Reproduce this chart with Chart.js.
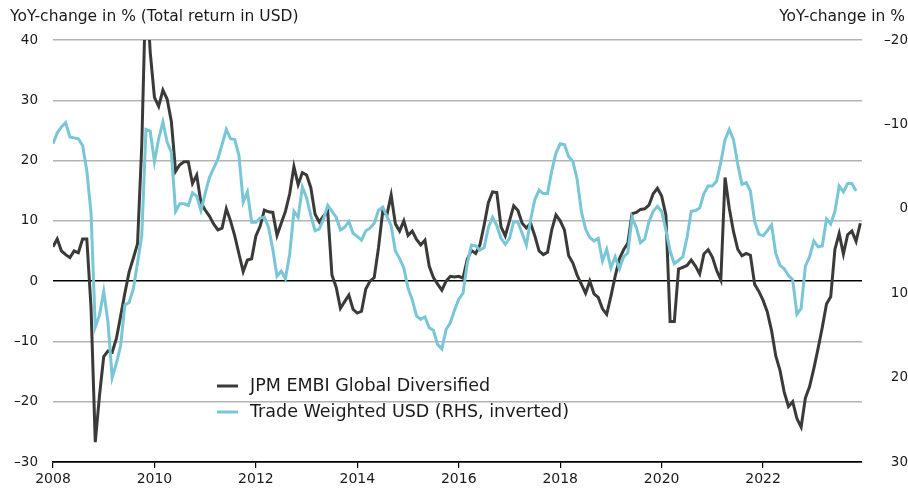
<!DOCTYPE html>
<html>
<head>
<meta charset="utf-8">
<script src="https://cdn.jsdelivr.net/npm/chart.js@4"></script>
<style>
body { margin: 0; background: #fff; }
#wrap { width: 908px; height: 488px; }
</style>
</head>
<body>
<div id="wrap"><canvas id="chart"></canvas></div>
<script>
// monthly data, Jan 2008 .. Dec 2023
var startYear = 2008;

var embiLabel = 'JPM EMBI Global Diversified';
var usdLabel = 'Trade Weighted USD (RHS, inverted)';

var embi = [
    5.7, 7.0, 5.0, 4.4, 3.9, 5.0, 4.7, 7.0, 7.0, -4.4, -26.7, -19.0,
    -12.5, -11.6, -11.8, -9.5, -5.8, -2.0, 1.5, 3.8, 6.2, 22.5, 50.0, 38.0,
    30.5, 29.0, 31.7, 30.2, 26.5, 18.2, 19.3, 19.8, 19.8, 16.2, 17.6, 13.0,
    11.8, 10.8, 9.5, 8.5, 8.8, 12.0, 10.0, 7.5, 4.5, 1.6, 3.5, 3.7,
    7.5, 9.1, 11.8, 11.5, 11.4, 7.6, 9.6, 11.6, 14.5, 19.0, 16.0, 18.0,
    17.6, 15.5, 11.1, 9.8, 10.8, 11.5, 1.0, -1.0, -4.5, -3.4, -2.3, -4.7,
    -5.3, -5.0, -1.3, 0.0, 0.6, 5.5, 11.5, 11.0, 14.3, 9.5, 8.3, 10.0,
    7.6, 8.3, 6.9, 6.0, 6.8, 2.5, 0.6, -0.5, -1.5, 0.0, 0.8, 0.7,
    0.8, 0.5, 3.6, 5.1, 4.6, 6.0, 9.3, 13.0, 14.8, 14.7, 9.0, 7.5,
    10.0, 12.5, 11.7, 9.6, 8.8, 9.6, 7.5, 5.0, 4.4, 4.8, 8.5, 11.0,
    10.0, 8.5, 4.2, 3.0, 1.0, -0.5, -2.0, 0.0, -2.1, -2.7, -4.6, -5.5,
    -2.5, 0.8, 3.7, 5.2, 6.3, 11.2, 11.4, 11.9, 12.0, 12.6, 14.5, 15.4,
    14.1, 11.0, -6.7, -6.7, 2.0, 2.3, 2.6, 3.5, 2.5, 1.2, 4.5, 5.2,
    4.0, 1.8, 0.2, 17.2, 12.1, 8.2, 5.3, 4.2, 4.6, 4.3, -0.5, -1.7,
    -3.2, -5.1, -8.2, -12.4, -14.8, -18.4, -20.8, -20.0, -22.8, -24.2, -19.4, -17.5,
    -14.5, -11.2, -7.7, -3.8, -2.6, 5.3, 7.9, 4.5, 7.7, 8.3, 6.6, 9.6
];

var usdTw = [
    -7.7, -9.0, -9.7, -10.2, -8.5, -8.4, -8.3, -7.5, -4.5, 0.5, 14.0, 12.6,
    9.8, 13.4, 20.0, 18.3, 16.2, 11.4, 11.1, 9.5, 6.4, 3.2, -9.4, -9.2,
    -5.6, -8.3, -10.3, -7.9, -6.7, 0.3, -0.6, -0.6, -0.4, -1.9, -1.5, 0.2,
    -1.8, -3.7, -4.8, -5.9, -7.6, -9.4, -8.3, -8.2, -6.3, -0.8, -2.0, 1.6,
    1.6, 1.1, 1.0, 2.2, 4.8, 8.0, 7.4, 8.3, 5.4, 0.3, 1.0, -2.6,
    -1.3, 0.8, 2.6, 2.4, 1.2, -0.4, 0.3, 1.0, 2.5, 2.2, 1.5, 2.9,
    3.3, 3.7, 2.6, 2.3, 1.7, 0.2, -0.2, 0.9, 2.0, 5.0, 5.9, 7.0,
    9.4, 10.8, 12.7, 13.1, 12.8, 14.1, 14.4, 16.1, 16.6, 14.3, 13.5, 12.0,
    10.7, 10.0, 6.5, 4.3, 4.4, 4.9, 4.6, 2.2, 1.0, 2.0, 3.5, 4.2,
    3.5, 1.5, 1.6, 2.9, 4.3, 1.3, -1.1, -2.2, -1.8, -1.8, -4.5, -6.6,
    -7.7, -7.6, -6.2, -5.6, -3.5, 0.3, 2.4, 3.4, 3.8, 3.5, 6.2, 4.8,
    7.0, 5.7, 7.1, 5.7, 5.2, 1.0, 2.2, 4.0, 3.6, 1.5, 0.3, -0.3,
    0.3, 2.5, 5.0, 6.5, 6.1, 5.7, 3.4, 0.3, 0.2, -0.1, -1.8, -2.7,
    -2.7, -3.3, -5.5, -8.2, -9.4, -8.2, -5.3, -2.9, -3.1, -2.1, 1.5, 3.0,
    3.2, 2.6, 1.9, 5.3, 6.7, 7.1, 7.9, 8.4, 12.5, 11.8, 6.8, 5.7,
    3.8, 4.5, 4.4, 1.2, 1.8, 0.3, -2.7, -2.0, -3.0, -3.0, -2.1, null
];

var leftTicks = [-30, -20, -10, 0, 10, 20, 30, 40];
var rightTicks = [-20, -10, 0, 10, 20, 30];
var yearTicks = [2008, 2010, 2012, 2014, 2016, 2018, 2020, 2022];

var leftTitle = 'YoY-change in % (Total return in USD)';
var rightTitle = 'YoY-change in %';

var colEmbi = '#3a3a38';
var colUsd = '#78c6d6';
var fontName = "'DejaVu Sans', Verdana, sans-serif";

function toPoints(values) {
    var pts = [];
    values.forEach(function (v, i) {
        pts.push({ x: startYear + i / 12, y: v });
    });
    return pts;
}

function dash(v) {
    return String(v).replace('-', '\u2013');
}

var textPlugin = {
    id: 'texts',
    afterDraw: function (chart) {
        var ctx = chart.ctx;
        ctx.save();
        ctx.fillStyle = '#1a1a1a';
        ctx.font = '15.5px ' + fontName;
        ctx.textBaseline = 'middle';
        ctx.textAlign = 'left';
        ctx.fillText(leftTitle, 10, 17);
        ctx.textAlign = 'right';
        ctx.fillText(rightTitle, 905, 17);

        // legend inside plot
        var items = [
            { label: embiLabel, color: colEmbi, y: 386 },
            { label: usdLabel, color: colUsd, y: 412 }
        ];
        ctx.font = '17.5px ' + fontName;
        ctx.textAlign = 'left';
        items.forEach(function (it) {
            ctx.strokeStyle = it.color;
            ctx.lineWidth = 3;
            ctx.beginPath();
            ctx.moveTo(217, it.y);
            ctx.lineTo(238, it.y);
            ctx.stroke();
            ctx.fillStyle = '#1a1a1a';
            ctx.fillText(it.label, 250, it.y);
        });
        ctx.restore();
    }
};

var chart = new Chart(document.getElementById('chart'), {
    type: 'line',
    data: {
        datasets: [{
            label: usdLabel,
            data: toPoints(usdTw),
            yAxisID: 'y2',
            borderColor: colUsd,
            borderWidth: 3,
            pointRadius: 0,
            tension: 0,
            order: 1
        }, {
            label: embiLabel,
            data: toPoints(embi),
            yAxisID: 'y',
            borderColor: colEmbi,
            borderWidth: 3,
            pointRadius: 0,
            tension: 0,
            order: 2
        }]
    },
    options: {
        responsive: true,
        maintainAspectRatio: false,
        animation: false,
        layout: { padding: { top: 40, left: 0, right: 0, bottom: 0 } },
        plugins: {
            legend: { display: false },
            tooltip: { enabled: false }
        },
        scales: {
            x: {
                type: 'linear',
                min: startYear,
                max: 2023.95,
                afterBuildTicks: function (axis) {
                    axis.ticks = yearTicks.map(function (v) { return { value: v }; });
                },
                ticks: {
                    callback: function (v) { return String(v); },
                    color: '#1a1a1a',
                    font: { family: fontName, size: 14 },
                    maxRotation: 0,
                    autoSkip: false,
                    padding: 3
                },
                grid: {
                    drawOnChartArea: false,
                    drawTicks: true,
                    tickLength: 6,
                    color: '#000',
                    lineWidth: 1.2
                },
                border: { display: true, color: '#000', width: 1.5 },
                afterFit: function (axis) { axis.height = 26; }
            },
            y: {
                position: 'left',
                min: leftTicks[0],
                max: leftTicks[leftTicks.length - 1],
                afterBuildTicks: function (axis) {
                    axis.ticks = leftTicks.map(function (v) { return { value: v }; });
                },
                ticks: {
                    callback: dash,
                    color: '#1a1a1a',
                    font: { family: fontName, size: 13.5 },
                    padding: 15
                },
                grid: {
                    drawTicks: false,
                    lineWidth: 1.5,
                    color: function (c) {
                        return (c.tick && (c.tick.value === 0 || c.tick.value === -30)) ? '#000' : '#b4b4b4';
                    }
                },
                border: { display: false },
                afterFit: function (axis) { axis.width = 53; }
            },
            y2: {
                position: 'right',
                reverse: true,
                min: rightTicks[0],
                max: rightTicks[rightTicks.length - 1],
                afterBuildTicks: function (axis) {
                    axis.ticks = rightTicks.map(function (v) { return { value: v }; });
                },
                ticks: {
                    callback: dash,
                    color: '#1a1a1a',
                    font: { family: fontName, size: 13.5 },
                    crossAlign: 'far',
                    padding: 0
                },
                grid: { drawOnChartArea: false, drawTicks: false },
                border: { display: false },
                afterFit: function (axis) { axis.width = 46; }
            }
        }
    },
    plugins: [textPlugin]
});
</script>
</body>
</html>
